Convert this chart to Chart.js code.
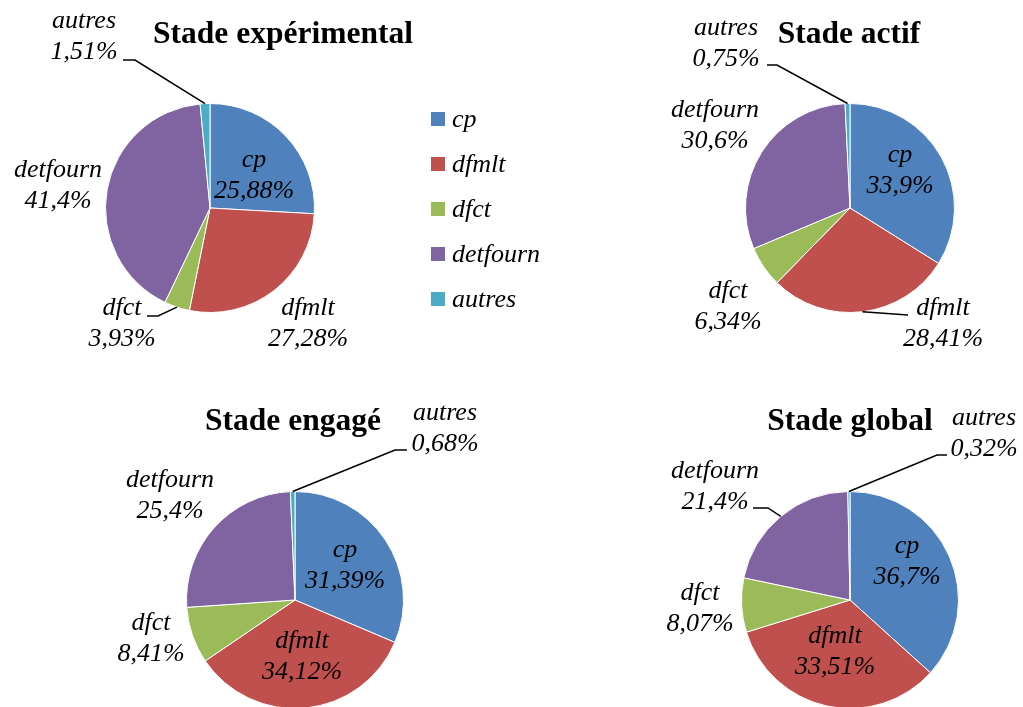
<!DOCTYPE html>
<html lang="fr">
<head>
<meta charset="utf-8">
<script src="https://cdn.jsdelivr.net/npm/chart.js@4.4.0/dist/chart.umd.min.js"></script>
<title>Stades</title>
<style>
  html, body { margin: 0; padding: 0; background: #fff; overflow: hidden; }
  body { width: 1023px; height: 707px; position: relative; }
  .box { position: absolute; }
  #legend { position: absolute; left: 431px; top: 96px; z-index: 2;
            font: italic 26px 'Liberation Serif', 'Times New Roman', serif; color: #000; }
  #legend div { height: 45px; display: flex; align-items: center; }
  #legend .sw { width: 14px; height: 14px; margin-right: 7px; display: inline-block; }
</style>
</head>
<body>
<div class="box" id="b1"><canvas id="c1"></canvas></div>
<div class="box" id="b2"><canvas id="c2"></canvas></div>
<div class="box" id="b3"><canvas id="c3"></canvas></div>
<div class="box" id="b4"><canvas id="c4"></canvas></div>
<div id="legend"></div>
<script>
// données
var categories = ['cp', 'dfmlt', 'dfct', 'detfourn', 'autres'];
var colors = ['#4F81BD', '#C0504D', '#9BBB59', '#8064A2', '#4BACC6'];
var titles = ['Stade expérimental', 'Stade actif', 'Stade engagé', 'Stade global'];
var stadeExperimental = [25.88, 27.28, 3.93, 41.4, 1.51];
var stadeActif = [33.9, 28.41, 6.34, 30.6, 0.75];
var stadeEngage = [31.39, 34.12, 8.41, 25.4, 0.68];
var stadeGlobal = [36.7, 33.51, 8.07, 21.4, 0.32];

// mise en page : boîte du canvas, centre et rayon du camembert, position des étiquettes
var layouts = [
    { box: [0, 0, 512, 360], pie: [210, 208, 105], title: [73, -165],
      labels: [
        { dx: 44, dy: -41 },
        { dx: 98, dy: 107 },
        { dx: -88, dy: 107, leader: [[-52, 108], [-63, 108]] },
        { dx: -152, dy: -31 },
        { dx: -126, dy: -180, leader: [[-75, -148], [-87, -148]] }
      ] },
    { box: [512, 0, 511, 360], pie: [850, 208, 105], title: [-1, -165],
      labels: [
        { dx: 50, dy: -46 },
        { dx: 93, dy: 107, leader: [[58, 107]] },
        { dx: -122, dy: 90 },
        { dx: -135, dy: -91 },
        { dx: -124, dy: -173, leader: [[-73, -143], [-83, -143]] }
      ] },
    { box: [0, 360, 512, 400], pie: [295, 600, 109], title: [-2, -170],
      labels: [
        { dx: 50, dy: -43 },
        { dx: 7, dy: 48 },
        { dx: -144, dy: 30 },
        { dx: -125, dy: -113 },
        { dx: 150, dy: -180, leader: [[100, -150], [112, -150]] }
      ] },
    { box: [512, 360, 511, 400], pie: [850, 600, 109], title: [0, -170],
      labels: [
        { dx: 57, dy: -47 },
        { dx: -15, dy: 43 },
        { dx: -150, dy: 0 },
        { dx: -135, dy: -122, leader: [[-82, -92], [-97, -92]] },
        { dx: 134, dy: -175, leader: [[87, -145], [97, -145]] }
      ] }
];
var series = [stadeExperimental, stadeActif, stadeEngage, stadeGlobal];

function fmt(v) {
    return String(v).replace('.', ',') + '%';
}

// étiquettes, traits de rappel et titre
var sliceLabels = {
    id: 'sliceLabels',
    afterDatasetsDraw: function(chart, args, opts) {
        var ctx = chart.ctx;
        var meta = chart.getDatasetMeta(0);
        var values = chart.data.datasets[0].data;
        var cx = meta.data[0].x, cy = meta.data[0].y;
        ctx.save();
        ctx.fillStyle = '#000';
        ctx.strokeStyle = '#000';
        ctx.lineWidth = 1.5;
        ctx.textAlign = 'center';
        ctx.textBaseline = 'alphabetic';
        meta.data.forEach(function(arc, i) {
            var p = opts.items[i];
            if (p.leader) {
                var mid = (arc.startAngle + arc.endAngle) / 2;
                ctx.beginPath();
                ctx.moveTo(arc.x + Math.cos(mid) * arc.outerRadius, arc.y + Math.sin(mid) * arc.outerRadius);
                p.leader.forEach(function(pt) { ctx.lineTo(arc.x + pt[0], arc.y + pt[1]); });
                ctx.stroke();
            }
            ctx.font = 'italic 26px "Liberation Serif", "Times New Roman", serif';
            ctx.fillText(chart.data.labels[i], arc.x + p.dx, arc.y + p.dy);
            ctx.fillText(fmt(values[i]), arc.x + p.dx, arc.y + p.dy + 31);
        });
        ctx.font = 'bold 31.5px "Liberation Serif", "Times New Roman", serif';
        ctx.fillText(opts.title, cx + opts.titlePos[0], cy + opts.titlePos[1]);
        ctx.restore();
    }
};

layouts.forEach(function(L, k) {
    var b = L.box, pie = L.pie;
    var el = document.getElementById('b' + (k + 1));
    el.style.left = b[0] + 'px';
    el.style.top = b[1] + 'px';
    el.style.width = b[2] + 'px';
    el.style.height = b[3] + 'px';
    new Chart(document.getElementById('c' + (k + 1)), {
        type: 'pie',
        data: {
            labels: categories,
            datasets: [{
                data: series[k],
                backgroundColor: colors,
                borderColor: '#fff',
                borderWidth: 1
            }]
        },
        options: {
            responsive: true,
            maintainAspectRatio: false,
            animation: false,
            layout: {
                padding: {
                    left: pie[0] - pie[2] - b[0],
                    top: pie[1] - pie[2] - b[1],
                    right: b[0] + b[2] - (pie[0] + pie[2]),
                    bottom: b[1] + b[3] - (pie[1] + pie[2])
                }
            },
            plugins: {
                legend: { display: false },
                tooltip: { enabled: false },
                sliceLabels: { items: L.labels, title: titles[k], titlePos: L.title }
            }
        },
        plugins: [sliceLabels]
    });
});

// légende commune
var legend = document.getElementById('legend');
categories.forEach(function(c, i) {
    var row = document.createElement('div');
    var sw = document.createElement('span');
    sw.className = 'sw';
    sw.style.background = colors[i];
    row.appendChild(sw);
    row.appendChild(document.createTextNode(c));
    legend.appendChild(row);
});
</script>
</body>
</html>
